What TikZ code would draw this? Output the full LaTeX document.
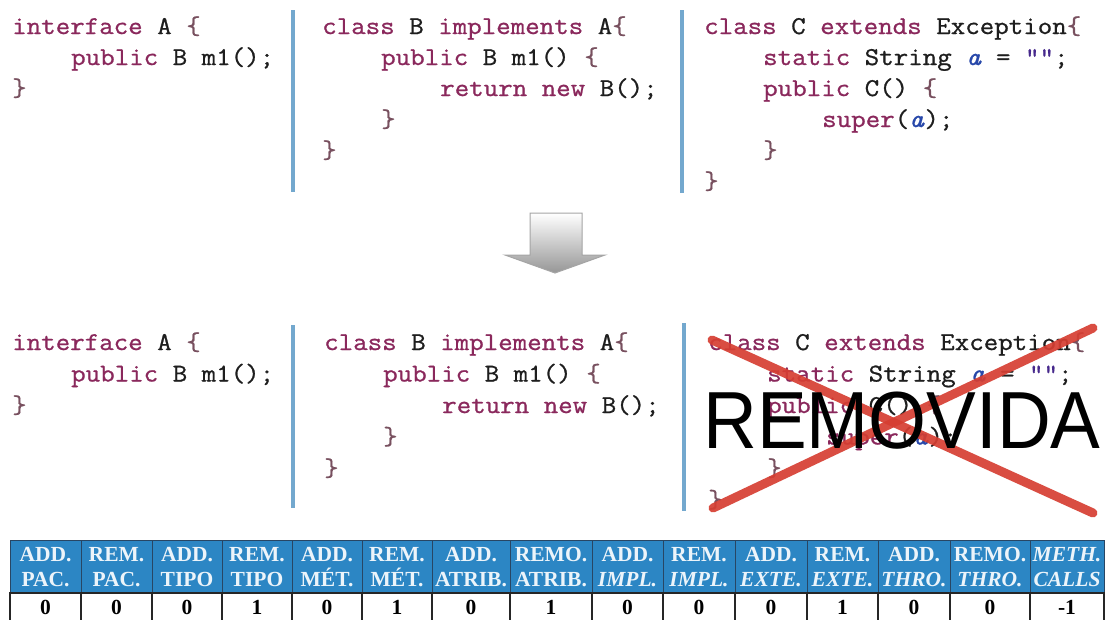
\documentclass[tikz,border=0pt]{standalone}
\usepackage{fontspec}
\usepackage{graphicx}
\newfontfamily\codefont{Latin Modern Mono}[FakeStretch=1.1, FakeBold=0.9]
\newfontfamily\tabfont{Liberation Serif}
\newfontfamily\bigsans{Liberation Sans}

% code colouring
\definecolor{kwc}{RGB}{138,40,92}
\definecolor{idc}{RGB}{30,30,30}
\definecolor{brc}{RGB}{120,80,95}
\definecolor{fldc}{RGB}{40,72,170}
\definecolor{strc}{RGB}{70,40,140}
% rules, arrow, cross, table
\definecolor{divc}{RGB}{115,168,206}
\definecolor{crossc}{RGB}{214,62,50}
\definecolor{hdrfill}{RGB}{44,134,196}
\definecolor{hdrline}{RGB}{40,70,100}
\definecolor{hdrtext}{RGB}{236,244,250}
\definecolor{arrowline}{RGB}{165,165,165}
\definecolor{arrowdark}{RGB}{150,150,150}

\newcommand\kw[1]{\textcolor{kwc}{#1}}
\newcommand\brc[1]{\textcolor{brc}{#1}}
\newcommand\fld[1]{\textcolor{fldc}{\textit{#1}}}
\newcommand\strlit[1]{\textcolor{strc}{#1}}

\tikzset{
  code/.style={anchor=base west, inner sep=0pt, text=idc,
    font=\codefont\fontsize{25.6}{31}\selectfont},
  divider/.style={line width=4pt, draw=divc},
  cross/.style={line width=9pt, draw=crossc, line cap=round, opacity=0.92},
  hcell/.style={rectangle, draw=hdrline, line width=1pt, fill=hdrfill,
    text=hdrtext, minimum height=54pt, inner sep=0pt, align=center,
    font=\tabfont\bfseries\fontsize{21.5}{25}\selectfont},
  vcell/.style={rectangle, draw=black!85, line width=1.2pt, fill=white,
    minimum height=29pt, inner sep=0pt,
    font=\tabfont\bfseries\fontsize{21.5}{25}\selectfont},
  blockarrow/.style={draw=arrowline, line width=1pt, top color=white,
    bottom color=arrowdark},
}

\begin{document}
\begin{tikzpicture}[x=1pt, y=-1pt]
\useasboundingbox[fill=white] (0,0) rectangle (1105,619);

% ---------- original code ----------
\node[code] (a1) at (12,34)  {\kw{interface} A \brc{\{}};
\node[code] (a2) at (71,65)  {\kw{public} B m1();};
\node[code] (a3) at (12,96)  {\brc{\}}};

\node[code] (b1) at (322,34)  {\kw{class} B \kw{implements} A\brc{\{}};
\node[code] (b2) at (381,65)  {\kw{public} B m1() \brc{\{}};
\node[code] (b3) at (440,96)  {\kw{return} \kw{new} B();};
\node[code] (b4) at (381,127) {\brc{\}}};
\node[code] (b5) at (322,158) {\brc{\}}};

\node[code] (c1) at (704,34)  {\kw{class} C \kw{extends} Exception\brc{\{}};
\node[code] (c2) at (763,65)  {\kw{static} String \fld{a} = \strlit{""};};
\node[code] (c3) at (763,96)  {\kw{public} C() \brc{\{}};
\node[code] (c4) at (822,127) {\kw{super}(\fld{a});};
\node[code] (c5) at (763,158) {\brc{\}}};
\node[code] (c6) at (704,189) {\brc{\}}};

\draw[divider] (293,10) -- (293,192);
\draw[divider] (682,10) -- (682,193);

% ---------- transformation arrow ----------
\draw[blockarrow] (530,213) -- (582,213) -- (582,255) -- (605,255)
  -- (555,273) -- (505,255) -- (530,255) -- cycle;

% ---------- resulting code ----------
\node[code] (d1) at (12,350)    {\kw{interface} A \brc{\{}};
\node[code] (d2) at (71,381.5)  {\kw{public} B m1();};
\node[code] (d3) at (12,413)    {\brc{\}}};

\node[code] (e1) at (324,350)   {\kw{class} B \kw{implements} A\brc{\{}};
\node[code] (e2) at (383,381.5) {\kw{public} B m1() \brc{\{}};
\node[code] (e3) at (442,413)   {\kw{return} \kw{new} B();};
\node[code] (e4) at (383,444.5) {\brc{\}}};
\node[code] (e5) at (324,476)   {\brc{\}}};

\node[code] (f1) at (708,350)   {\kw{class} C \kw{extends} Exception\brc{\{}};
\node[code] (f2) at (767,381.5) {\kw{static} String \fld{a} = \strlit{""};};
\node[code] (f3) at (767,413)   {\kw{public} C() \brc{\{}};
\node[code] (f4) at (826,444.5) {\kw{super}(\fld{a});};
\node[code] (f5) at (767,476)   {\brc{\}}};
\node[code] (f6) at (708,507.5) {\brc{\}}};

\draw[divider] (293,325) -- (293,508);
\draw[divider] (684,323) -- (684,511);

% removed class: red cross and label
\draw[cross] (712,340) -- (1093,513);
\draw[cross] (1093,328) -- (713,508);
\node[anchor=base west, inner sep=0pt, text=black,
  font=\bigsans\fontsize{81}{81}\selectfont] (rem) at (703,448)
  {\scalebox{0.92}[1]{REMOVIDA}};

% ---------- change metrics table ----------
\foreach \n/\xa/\xb/\hd/\vl in {
  1/10/81/{ADD.\\PAC.}/0,
  2/81/152/{REM.\\PAC.}/0,
  3/152/222/{ADD.\\TIPO}/0,
  4/222/292/{REM.\\TIPO}/1,
  5/292/362/{ADD.\\MÉT.}/0,
  6/362/432/{REM.\\MÉT.}/1,
  7/432/510/{ADD.\\ATRIB.}/0,
  8/510/592/{REMO.\\ATRIB.}/1,
  9/592/663/{ADD.\\\textit{IMPL.}}/0,
  10/663/735/{REM.\\\textit{IMPL.}}/0,
  11/735/807/{ADD.\\\textit{EXTE.}}/0,
  12/807/878/{REM.\\\textit{EXTE.}}/1,
  13/878/950/{ADD.\\\textit{THRO.}}/0,
  14/950/1030/{REMO.\\\textit{THRO.}}/0,
  15/1030/1104/{\textit{METH.}\\\textit{CALLS}}/-1}
{
  \node[hcell, minimum width={(\xb-\xa)*1pt}] (h\n) at ({(\xa+\xb)/2},567) {\hd};
  \node[vcell, minimum width={(\xb-\xa)*1pt}] (v\n) at ({(\xa+\xb)/2},607.5) {\vl};
}
\end{tikzpicture}
\end{document}
